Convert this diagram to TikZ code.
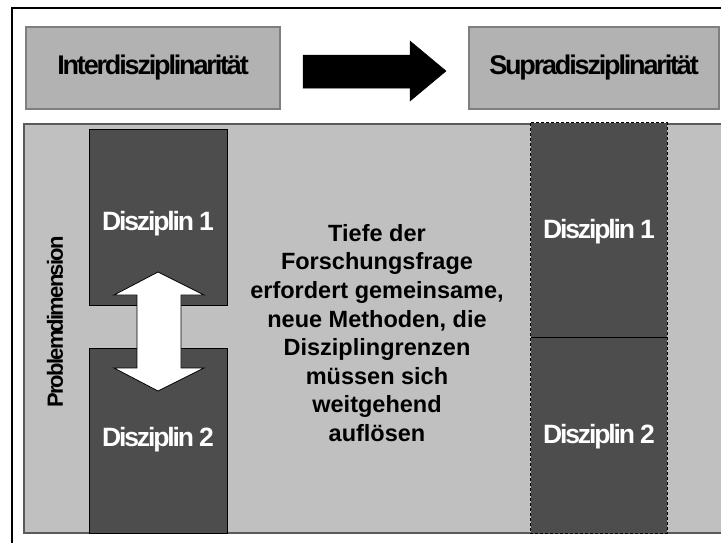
\documentclass[tikz,border=0pt]{standalone}
\usepackage{fontspec}
\setmainfont{Liberation Sans}
\newfontfamily\tightsans[LetterSpace=-8]{Liberation Sans}
\definecolor{boxfill}{HTML}{B2B2B2}
\definecolor{boxline}{HTML}{7F7F7F}
\definecolor{panelfill}{HTML}{C0C0C0}
\definecolor{panelline}{HTML}{5A5A5A}
\definecolor{discfill}{HTML}{4D4D4D}
\begin{document}
\begin{tikzpicture}[
  x=1pt, y=-1pt,
  topbox/.style={draw=boxline, fill=boxfill, line width=1.5pt, inner sep=0pt,
    minimum height=82pt, font=\tightsans\bfseries\fontsize{27}{30}\selectfont},
  discbox/.style={fill=discfill, draw=black, line width=0.8pt, inner sep=0pt},
  disclabel/.style={text=white, inner sep=0pt,
    font=\tightsans\bfseries\fontsize{26.5}{30}\selectfont},
  bodytext/.style={align=center, inner sep=0pt,
    font=\bfseries\fontsize{23.5}{28.6}\selectfont},
  sidelabel/.style={rotate=90, inner sep=0pt,
    font=\tightsans\bfseries\fontsize{22}{24}\selectfont},
  bigarrow/.style={fill=black, draw=black, line width=0.5pt},
  linkarrow/.style={fill=white, draw=black, line width=0.8pt, line join=miter},
]
\useasboundingbox (0,0) rectangle (721,542);
\clip (0,0) rectangle (721,542);
\fill[white] (0,0) rectangle (721,542);

% outer frame, open to the right and bottom
\draw[line width=2pt] (11.5,8) rectangle (740,560);

% headline boxes
\node[topbox, minimum width=254pt] (inter) at (153,68) {Interdisziplinarität};
\node[topbox, minimum width=250pt] (supra) at (594,68) {Supradisziplinarität};

% transition arrow between the headline boxes
\draw[bigarrow] (303,55) -- (410,55) -- (410,41) -- (446,71)
  -- (410,101) -- (410,88) -- (303,88) -- cycle;

% problem panel
\node[fill=panelfill, draw=panelline, line width=1.2pt, inner sep=0pt,
  minimum width=706pt, minimum height=409pt] (panel) at (377,328.5) {};

% interdisciplinary: two separate disciplines
\node[discbox, minimum width=138pt, minimum height=176pt] (d1) at (158,217) {};
\node[discbox, minimum width=138pt, minimum height=185pt] (d2) at (158,440.5) {};
\node[disclabel] (d1t) at (158,224) {Disziplin 1};
\node[disclabel] (d2t) at (158,440) {Disziplin 2};

% exchange between the two disciplines
\draw[linkarrow] (158,272) -- (204,295) -- (181,295) -- (181,368) -- (204,368)
  -- (158,391) -- (114,368) -- (137,368) -- (137,295) -- (114,295) -- cycle;

% supradisciplinary: one merged column
\node[fill=discfill, inner sep=0pt, minimum width=136pt, minimum height=214pt] (s1) at (599,230) {};
\node[fill=discfill, inner sep=0pt, minimum width=136pt, minimum height=196pt] (s2) at (599,435) {};
\draw[dashed, line width=0.8pt, dash pattern=on 3pt off 2pt] (s1.north west) rectangle (s2.south east);
\draw[line width=0.8pt] (s1.south west) -- (s1.south east);
\node[disclabel] (s1t) at (599,232) {Disziplin 1};
\node[disclabel] (s2t) at (599,437) {Disziplin 2};

% axis label
\node[sidelabel] (dim) at (55,322) {Problemdimension};

% explanation
\node[bodytext] (expl) at (377,333) {Tiefe der\\Forschungsfrage\\erfordert gemeinsame,\\neue Methoden, die\\Disziplingrenzen\\müssen sich\\weitgehend\\auflösen};
\end{tikzpicture}
\end{document}
